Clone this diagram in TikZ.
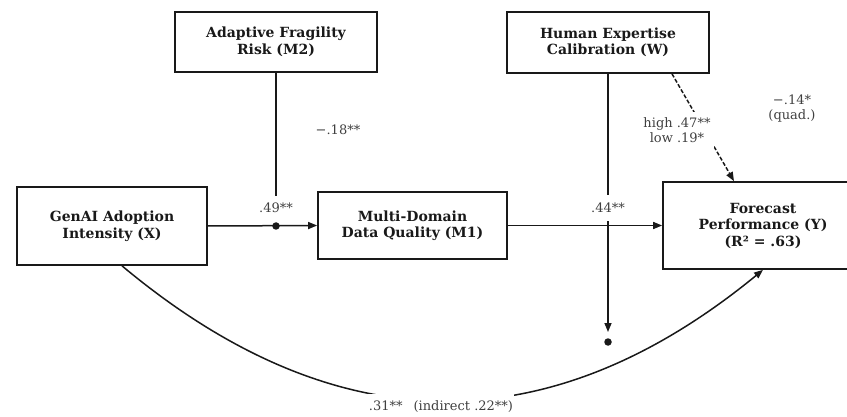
\documentclass[tikz,border=0pt]{standalone}
\usepackage{fontspec}
\setmainfont{DejaVu Serif}
\usetikzlibrary{arrows.meta}
\begin{document}
\begin{tikzpicture}[x=1pt,y=-1pt,
  box/.style={draw=black!90, line width=1.7pt, align=center, inner sep=0pt, text=black!90,
    font=\fontsize{14}{16.5}\selectfont\bfseries},
  lbl/.style={align=center, inner sep=1pt, text=black!75, font=\fontsize{13}{14.5}\selectfont},
  conn/.style={line width=1.5pt, draw=black!90},
  tip/.style={-{Triangle[length=9pt,width=7pt]}},
  dotmark/.style={circle, fill=black!90, inner sep=0pt, minimum size=7.5pt}]
\useasboundingbox (0,0) rectangle (847,417);
% boxes
\node[box, minimum width=202pt, minimum height=60pt] (M2) at (276,42) {Adaptive Fragility\\Risk (M2)};
\node[box, minimum width=202pt, minimum height=61pt] (W) at (608,42.5) {Human Expertise\\Calibration (W)};
\node[box, minimum width=190pt, minimum height=78pt] (X) at (112,226) {GenAI Adoption\\Intensity (X)};
\node[box, minimum width=189pt, minimum height=67pt] (M1) at (412.5,225.5) {Multi-Domain\\Data Quality (M1)};
\node[box, minimum width=200pt, minimum height=87pt] (Y) at (763,225.5) {Forecast\\Performance (Y)\\(R² = .63)};
% coordinates and dots
\node[dotmark] (xdot) at (276,226) {};
\coordinate (m2end) at (276,196);
\node[dotmark] (wdot) at (608,342) {};
\coordinate (wend) at (608,332);
\coordinate (dstart) at ([xshift=64pt]W.south);
\coordinate (dend) at ([xshift=-29pt]Y.north);
% connectors
\draw[conn] (M2.south) -- (m2end);
\draw[conn,tip] (X.east) -- (M1.west);
\draw[conn,tip] (M1.east) -- (Y.west);
\draw[conn,tip] (W.south) -- (wend);
\draw[conn,tip,dash pattern=on 4pt off 2pt] (dstart) -- (dend);
\draw[conn,tip] ([xshift=10pt]X.south) .. controls (335.3,444) and (549,445.3) .. (Y.south);
% labels
\node[lbl] (l49) at (276,208) {.49**};
\node[lbl] (l18) at (338,130) {−.18**};
\node[lbl, fill=white, minimum height=26pt] (l44) at (608,208) {.44**};
\node[lbl, fill=white, minimum height=36pt, minimum width=74pt] (lhl) at (677,130) {high .47**\\low .19*};
\node[lbl] (l14) at (792,108.5) {−.14*\\(quad.)};
\node[lbl, fill=white, minimum height=26pt] (l31) at (441,407) {.31**\hspace{11pt}(indirect .22**)};
\end{tikzpicture}
\end{document}
